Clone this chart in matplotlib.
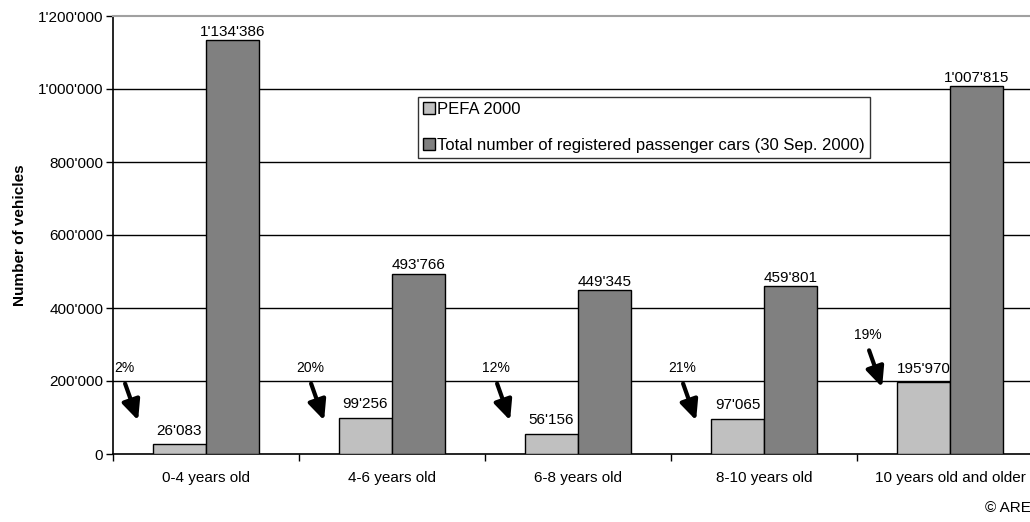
import matplotlib.pyplot as plt
import numpy as np

plt.rcParams['font.family'] = ['Liberation Sans', 'DejaVu Sans']

categories = ['0-4 years old', '4-6 years old', '6-8 years old', '8-10 years old', '10 years old and older']
pefa = [26083, 99256, 56156, 97065, 195970]
total = [1134386, 493766, 449345, 459801, 1007815]
shares = ['2%', '20%', '12%', '21%', '19%']
yticks = [0, 200000, 400000, 600000, 800000, 1000000, 1200000]


def fmt(v):
    return '{:,}'.format(v).replace(',', "'")


fig = plt.figure(figsize=(10.3, 5.22), dpi=100)
ax = fig.add_axes([113 / 1030, 68 / 522, 930 / 1030, 438 / 522])

x = np.arange(len(categories))
w = 0.285
ax.bar(x - w / 2, pefa, w, color='#C0C0C0', edgecolor='black', linewidth=1.0, zorder=3,
       label='PEFA 2000')
ax.bar(x + w / 2, total, w, color='#808080', edgecolor='black', linewidth=1.0, zorder=3,
       label='Total number of registered passenger cars (30 Sep. 2000)')

for xi, v in zip(x - w / 2, pefa):
    ax.annotate(fmt(v), (xi, v), xytext=(0, 5), textcoords='offset points',
                ha='center', va='bottom', fontsize=11, zorder=2)
for xi, v in zip(x + w / 2, total):
    ax.annotate(fmt(v), (xi, v), xytext=(0, 1), textcoords='offset points',
                ha='center', va='bottom', fontsize=11, zorder=4)

# percentage labels with arrows
for i, (s, v) in enumerate(zip(shares, pefa)):
    ytxt = max(235000, v + 130000)
    ax.text(i - 0.44, ytxt, s, ha='center', va='center', fontsize=10, zorder=5)
    ax.annotate('', xy=(i - 0.365, ytxt - 143000), xytext=(i - 0.435, ytxt - 42000),
                arrowprops=dict(arrowstyle='-|>,head_length=1.2,head_width=0.55',
                                mutation_scale=10, shrinkA=0, shrinkB=0,
                                color='black', lw=3), zorder=5)

for t in yticks[1:-1]:
    ax.axhline(t, color='black', lw=1.0, zorder=1)

ax.set_xlim(-0.5, len(categories) - 0.5)
ax.set_ylim(0, 1200000)
ax.set_yticks(yticks)
ax.set_yticklabels([fmt(t) for t in yticks], fontsize=11)
ax.set_xticks(x)
ax.set_xticklabels(categories, fontsize=11)
ax.set_xticks(np.arange(len(categories) + 1) - 0.5, minor=True)
ax.tick_params(axis='x', which='major', length=0, pad=12)
ax.tick_params(axis='x', which='minor', length=5, width=1, direction='out')
ax.tick_params(axis='y', length=5, width=1, direction='out', pad=2)

for sp in ['left', 'bottom']:
    ax.spines[sp].set_color('black')
    ax.spines[sp].set_linewidth(1.2)
ax.spines['top'].set_color('#A0A0A0')
ax.spines['top'].set_linewidth(1.5)
ax.spines['right'].set_color('#A0A0A0')

ax.set_ylabel('Number of vehicles', fontsize=11, fontweight='bold', labelpad=8)

leg = ax.legend(loc='upper left', bbox_to_anchor=(418 / 1030, 1 - 97 / 522),
                bbox_transform=fig.transFigure, fontsize=12, frameon=True, fancybox=False,
                handlelength=0.7, handleheight=0.7, handletextpad=0.15,
                borderpad=0.3, labelspacing=1.25, borderaxespad=0)
leg.get_frame().set_edgecolor('black')
leg.get_frame().set_linewidth(1.0)
leg.set_zorder(6)

fig.text(985 / 1030, 1 - 508 / 522, '© ARE', fontsize=11, ha='left', va='center')

fig.savefig('out.png', dpi=100)
